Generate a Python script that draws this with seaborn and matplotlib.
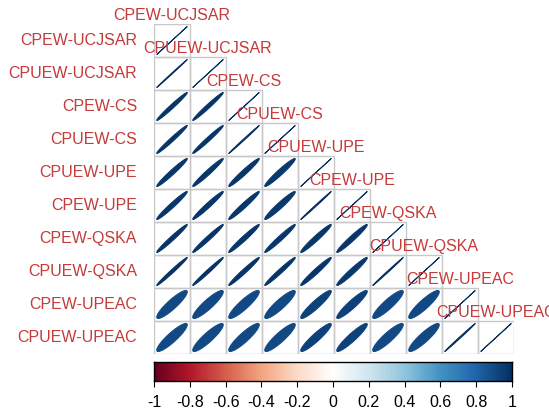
import numpy as np
import matplotlib.pyplot as plt
from matplotlib.patches import Rectangle
import seaborn as sns

sns.set_theme(style="white")
plt.rcParams['font.family'] = ['Liberation Sans', 'DejaVu Sans']

# variable names, in matrix order
labels = ["CPEW-UCJSAR", "CPUEW-UCJSAR", "CPEW-CS", "CPUEW-CS", "CPUEW-UPE",
          "CPEW-UPE", "CPEW-QSKA", "CPUEW-QSKA", "CPEW-UPEAC", "CPUEW-UPEAC"]

# lower triangle of the correlation matrix
row1 = [1.0]
row2 = [0.999, 1.0]
row3 = [0.983, 0.983, 1.0]
row4 = [0.983, 0.983, 0.998, 1.0]
row5 = [0.975, 0.975, 0.972, 0.965, 1.0]
row6 = [0.975, 0.975, 0.972, 0.962, 0.998, 1.0]
row7 = [0.98, 0.98, 0.975, 0.975, 0.97, 0.97, 1.0]
row8 = [0.988, 0.988, 0.98, 0.98, 0.972, 0.968, 0.998, 1.0]
row9 = [0.90, 0.90, 0.90, 0.90, 0.93, 0.93, 0.90, 0.90, 1.0]
row10 = [0.90, 0.90, 0.90, 0.90, 0.93, 0.93, 0.90, 0.90, 0.998, 1.0]
corr_rows = [row1, row2, row3, row4, row5, row6, row7, row8, row9, row10]

ticks = [-1, -0.8, -0.6, -0.4, -0.2, 0, 0.2, 0.4, 0.6, 0.8, 1]
tick_labels = ["-1", "-0.8", "-0.6", "-0.4", "-0.2", "0", "0.2", "0.4", "0.6", "0.8", "1"]

# corrplot RdBu palette
rdbu = ["#67001F", "#B2182B", "#D6604D", "#F4A582", "#FDDBC7", "#FFFFFF",
        "#D1E5F0", "#92C5DE", "#4393C3", "#2166AC", "#053061"]
cmap = sns.blend_palette(rdbu, n_colors=200, as_cmap=True)

label_col = "#C53A3A"
grid_col = "#C8C8C8"
n = len(labels)

W, H = 549, 409
fig = plt.figure(figsize=(W / 100, H / 100), dpi=100)
ax = fig.add_axes([154 / W, 1 - 354 / H, 360 / W, 330 / H])
ax.set_xlim(0.5, n + 0.5)
ax.set_ylim(n + 0.5, 0.5)
ax.axis("off")

k = np.linspace(0, 2 * np.pi, 99)
for i, row in enumerate(corr_rows):
    for j, r in enumerate(row):
        cx, cy = j + 1, i + 1
        ax.add_patch(Rectangle((cx - 0.5, cy - 0.5), 1, 1, fill=False,
                               ec=grid_col, lw=1, zorder=1))
        a = np.arccos(np.clip(r, -1, 1))
        ex = 0.85 * np.cos(k + a / 2) / 2
        ey = 0.85 * np.cos(k - a / 2) / 2
        col = cmap((r + 1) / 2)
        ax.fill(cx + ex, cy - ey, color=col, ec=col, lw=0.7, zorder=2)

# labels on the left and on the diagonal
for i, lab in enumerate(labels):
    ax.text(0.5 - 0.47, i + 1, lab, ha="right", va="center", fontsize=11.5,
            color=label_col, clip_on=False)
    ax.text(i + 1, i + 0.5 - 0.27, lab, ha="center", va="center", fontsize=11.5,
            color=label_col, clip_on=False, zorder=3)

# colour legend
cax = fig.add_axes([154 / W, 1 - 381 / H, 358 / W, 19 / H])
grad = np.linspace(-1, 1, 400).reshape(1, -1)
cax.imshow(grad, cmap=cmap, vmin=-1, vmax=1, aspect="auto", extent=[-1, 1, 0, 1])
cax.set_yticks([])
cax.set_xticks(ticks)
cax.set_xticklabels(tick_labels, fontsize=11.5, color="black")
cax.tick_params(axis="x", bottom=True, length=4, width=0.8, color="black", pad=6)
for s in cax.spines.values():
    s.set_visible(True)
    s.set_color("black")
    s.set_linewidth(1)

fig.savefig("out.png", dpi=100, facecolor="white")
